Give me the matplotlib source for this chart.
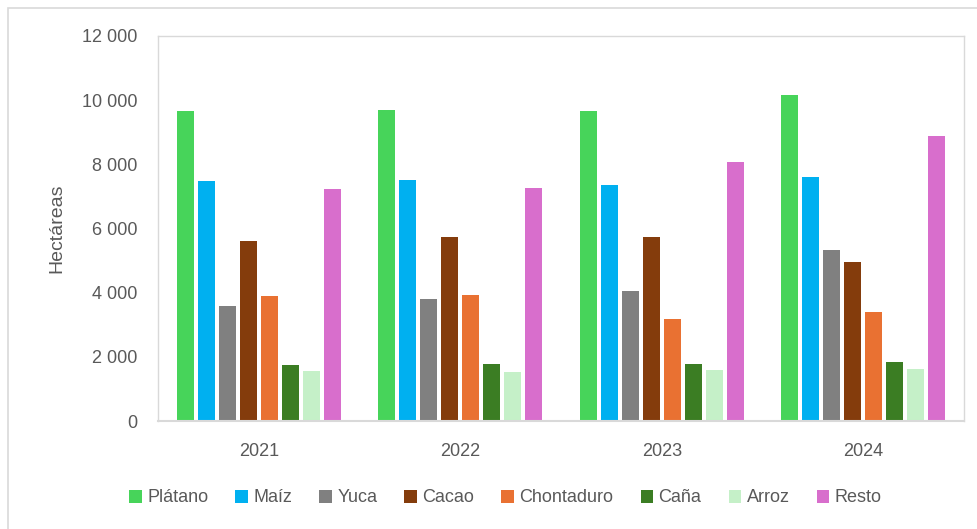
import matplotlib
matplotlib.use("Agg")
import matplotlib.pyplot as plt
import numpy as np
from matplotlib.patches import Rectangle

years = ["2021", "2022", "2023", "2024"]
series_names = ["Plátano", "Maíz", "Yuca", "Cacao", "Chontaduro", "Caña", "Arroz", "Resto"]
platano = [9660, 9690, 9650, 10160]
maiz = [7480, 7510, 7350, 7600]
yuca = [3600, 3790, 4050, 5320]
cacao = [5610, 5740, 5750, 4960]
chontaduro = [3910, 3940, 3190, 3400]
cana = [1750, 1780, 1780, 1840]
arroz = [1560, 1540, 1590, 1610]
resto = [7230, 7250, 8060, 8870]
values = [platano, maiz, yuca, cacao, chontaduro, cana, arroz, resto]
colors = ["#47D45A", "#00B0F0", "#808080", "#843C0C", "#E97132", "#3B7D23", "#C5F0C8", "#D86ECC"]
yticks = [0, 2000, 4000, 6000, 8000, 10000, 12000]

plt.rcParams['font.family'] = ['Liberation Sans', 'DejaVu Sans']

fig = plt.figure(figsize=(9.77, 5.29), dpi=100)
ax = fig.add_axes([158/977, 1-421/529, (964-158)/977, (421-36)/529])

x = np.arange(len(years))
pitch = 0.1042
width = 0.083
n = len(series_names)
for i, (name, vals, c) in enumerate(zip(series_names, values, colors)):
    offs = (i - (n-1)/2) * pitch
    ax.bar(x + offs, vals, width=width, color=c, label=name, edgecolor='none')

ax.set_xlim(-0.5, len(years) - 0.5)
ax.set_ylim(0, 12000)
ax.set_yticks(yticks)
ax.set_yticklabels([f"{v:,}".replace(",", " ") for v in yticks])
ax.set_xticks(x)
ax.set_xticklabels(years)
ax.tick_params(axis='both', length=0, labelsize=13, colors='#595959')
ax.tick_params(axis='y', pad=15)
ax.tick_params(axis='x', pad=16)
for s in ax.spines.values():
    s.set_color('#D9D9D9')
    s.set_linewidth(1.0)
ax.spines['bottom'].set_linewidth(1.5)
ax.set_ylabel("Hectáreas", fontsize=14, color='#595959')
ax.yaxis.set_label_coords(-0.115, 0.5)

leg = ax.legend(loc='center', bbox_to_anchor=(0.431, -0.2), ncol=8, frameon=False,
                fontsize=13, handlelength=0.7, handleheight=0.7, handletextpad=0.3,
                columnspacing=1.5, labelcolor='#595959', borderaxespad=0)

fig.patches.append(Rectangle((8/977, -0.1), 1.2, 1 - 8/529 + 0.1, transform=fig.transFigure,
                             fill=False, edgecolor='#D9D9D9', linewidth=1.2))

fig.savefig("out.png", dpi=100)
